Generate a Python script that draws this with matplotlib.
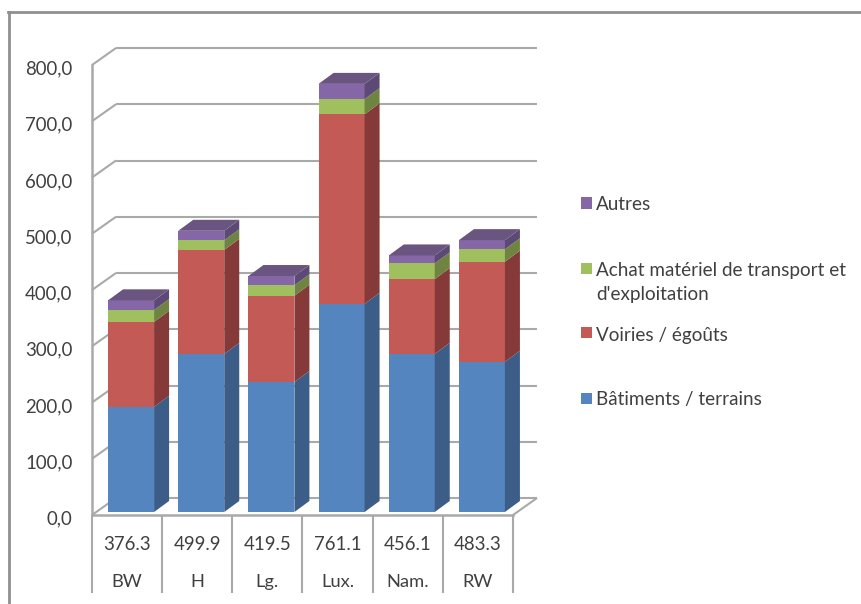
#!/usr/bin/env python3
"""Stacked pseudo-3D columns: investment per province, with totals under each column."""
import matplotlib
matplotlib.use("Agg")
import matplotlib.pyplot as plt
from matplotlib.patches import Rectangle
from matplotlib.lines import Line2D
from matplotlib.transforms import ScaledTranslation

W, H = 862, 604
GRID = "#a9a9a9"
TEXT = "#404040"

provinces = ["BW", "H", "Lg.", "Lux.", "Nam.", "RW"]
batiments = [187.0, 281.0, 231.0, 370.0, 281.0, 267.0]
voiries = [151.0, 185.0, 153.5, 337.0, 133.0, 178.0]
achat = [21.0, 17.0, 18.5, 27.0, 28.0, 22.0]
autres = [17.3, 16.9, 16.5, 27.1, 14.1, 16.3]
totals = [376.3, 499.9, 419.5, 761.1, 456.1, 483.3]
y_ticks = [0, 100, 200, 300, 400, 500, 600, 700, 800]

series = [
    (batiments, "#5585be", "#3b5d87", "#3b5d87"),
    (voiries, "#c45a55", "#853938", "#853938"),
    (achat, "#a0c060", "#6e8440", "#6e8440"),
    (autres, "#8567a8", "#5d4975", "#69557f"),
]
legend_rows = [
    ("Autres", "#8567a8", 203, 205),
    ("Achat matériel de transport et\nd'exploitation", "#a0c060", 268, 282),
    ("Voiries / égoûts", "#c45a55", 333, 335),
    ("Bâtiments / terrains", "#5585be", 398, 400),
]

plt.rcParams["font.family"] = ["Lato", "DejaVu Sans"]
fig = plt.figure(figsize=(W / 100, H / 100), dpi=100, facecolor="white")
ax = fig.add_axes([92 / W, (H - 515) / H, 421 / W, 450 / H])
ax.set_xlim(-0.5, 5.5)
ax.set_ylim(0, 800)
ax.patch.set_visible(False)

# pixel sizes of the oblique depth, converted to data units
px_x = 6 / 421
px_y = 800 / 450
wall_dx, wall_dy = 24 * px_x, 17 * px_y
bar_dx, bar_dy = 15 * px_x, 11 * px_y
shift_x, lift = 4 * px_x, 3 * px_y
bar_w = 46 * px_x


def line(xs, ys, lw=1.5, color=GRID, z=1):
    ax.add_line(Line2D(xs, ys, lw=lw, color=color, clip_on=False, zorder=z,
                       solid_capstyle="butt"))


# back wall and left wall
x_left, x_right = -0.5, 5.5
for v in y_ticks:
    line([x_left, x_left + wall_dx], [v, v + wall_dy])
    line([x_left + wall_dx, x_right + wall_dx], [v + wall_dy, v + wall_dy])
line([x_right, x_right + wall_dx], [0, wall_dy])

# stacked columns, left to right
for i in range(len(provinces)):
    x0 = i + shift_x - bar_w / 2
    x1 = x0 + bar_w
    bottom = lift
    for j, (vals, front, side, top) in enumerate(series):
        v = vals[i]
        ax.bar(x0, v, bar_w, bottom=bottom, align="edge", color=front, clip_on=False,
               zorder=4 + i)
        ax.fill([x1, x1 + bar_dx, x1 + bar_dx, x1],
                [bottom, bottom + bar_dy, bottom + v + bar_dy, bottom + v],
                color=side, lw=0, clip_on=False, zorder=4 + i)
        bottom += v
    ax.fill([x0, x1, x1 + bar_dx, x0 + bar_dx],
            [bottom, bottom, bottom + bar_dy, bottom + bar_dy],
            color=series[-1][3], lw=0, clip_on=False, zorder=4 + i)

# table-like separators under the floor
table_bottom = -78 * px_y
for k in range(len(provinces) + 1):
    line([k - 0.5, k - 0.5], [0, table_bottom], z=2)
for i, name in enumerate(provinces):
    ax.text(i, -29 * px_y, f"{totals[i]:.1f}", ha="center", va="center",
            fontsize=13.4, color=TEXT)
    ax.text(i, -67 * px_y, name, ha="center", va="center", fontsize=13.2, color=TEXT)

for side in ("top", "right"):
    ax.spines[side].set_visible(False)
for side in ("left", "bottom"):
    ax.spines[side].set_color(GRID)
    ax.spines[side].set_linewidth(1.8)
ax.set_xticks([])
ax.set_yticks(y_ticks)
ax.set_yticklabels([f"{v},0" for v in y_ticks], fontsize=13.4, color=TEXT)
ax.tick_params(axis="y", length=0, pad=14)
nudge = ScaledTranslation(0, -2.5 / 100, fig.dpi_scale_trans)
for lab in ax.get_yticklabels():
    lab.set_transform(lab.get_transform() + nudge)

# legend rows sit at uneven heights
for label, color, y_box, y_text in legend_rows:
    fig.patches.append(Rectangle((581 / W, 1 - (y_box + 5.5) / H), 11 / W, 11 / H,
                                 transform=fig.transFigure, color=color, lw=0))
    fig.text(596 / W, 1 - y_text / H, label, ha="left", va="center", fontsize=13.6,
             color=TEXT, linespacing=1.5)

# frame on the left and top edges only
fig.add_artist(Line2D([9 / W, 9 / W], [0, 1 - 12 / H], color="#8f8f8f", lw=2))
fig.add_artist(Line2D([8 / W, 1], [1 - 12 / H, 1 - 12 / H], color="#8f8f8f", lw=2))

fig.savefig("out.png", dpi=100, facecolor="white")
